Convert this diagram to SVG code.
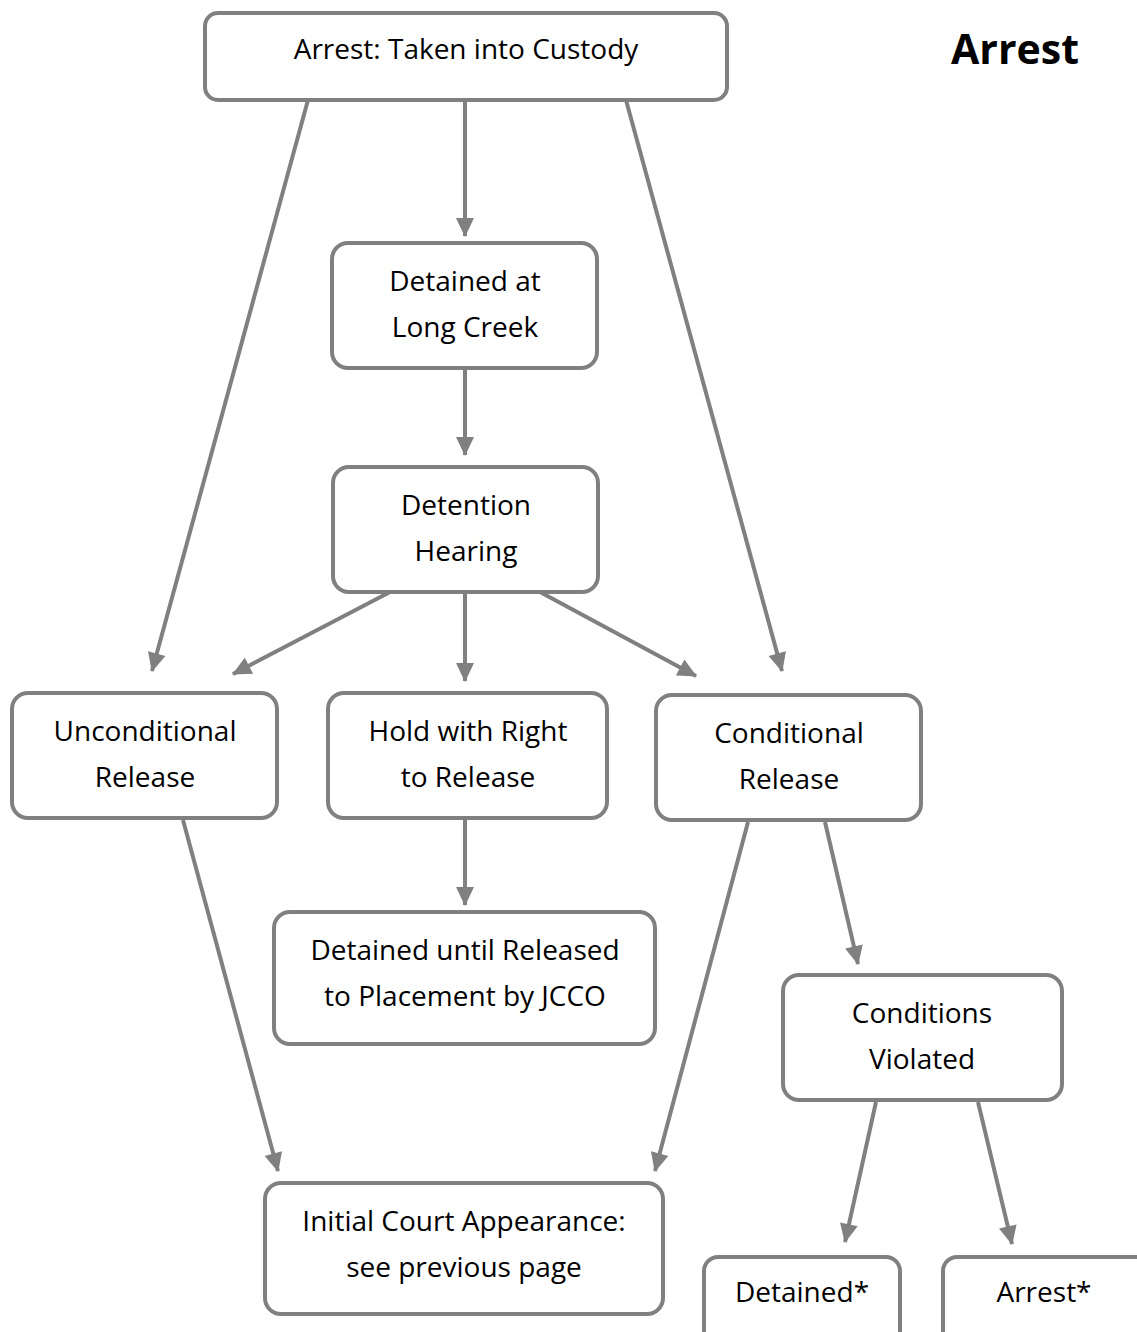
<svg xmlns="http://www.w3.org/2000/svg" width="1137" height="1332" viewBox="0 0 1137 1332">
<style>
.box{fill:#fff;stroke:#808080;stroke-width:4}
.t{font-family:"Open Sans","Noto Sans",sans-serif;font-size:28px;fill:#000;text-anchor:middle}
.title{font-family:"Open Sans","Noto Sans",sans-serif;font-size:41px;font-weight:bold;fill:#000}
.c{stroke:#808080;stroke-width:4;fill:none;marker-end:url(#ah)}
</style>
<defs>
<marker id="ah" markerUnits="userSpaceOnUse" markerWidth="22" markerHeight="20" refX="18" refY="9" orient="auto" overflow="visible">
<path d="M0,0 L19,9 L0,18 z" fill="#808080"/>
</marker>
</defs>
<rect width="1137" height="1332" fill="#fff"/>
<text class="title" x="951" y="64">Arrest</text>
<g id="connectors">
<line class="c" x1="465" y1="100" x2="465" y2="236"/>
<line class="c" x1="308" y1="100" x2="152" y2="671"/>
<line class="c" x1="626" y1="100" x2="782" y2="671"/>
<line class="c" x1="465" y1="368" x2="465" y2="455"/>
<line class="c" x1="390" y1="592" x2="233" y2="674"/>
<line class="c" x1="465" y1="592" x2="465" y2="681"/>
<line class="c" x1="540" y1="592" x2="696" y2="676"/>
<line class="c" x1="183" y1="820" x2="278" y2="1171"/>
<line class="c" x1="465" y1="820" x2="465" y2="905"/>
<line class="c" x1="748" y1="822" x2="655" y2="1171"/>
<line class="c" x1="825" y1="822" x2="858" y2="964"/>
<line class="c" x1="876" y1="1102" x2="845" y2="1242"/>
<line class="c" x1="978" y1="1102" x2="1012" y2="1244"/>
</g>
<g id="n1"><rect class="box" x="205" y="13" width="522" height="87" rx="13"/><text class="t" x="466" y="59">Arrest: Taken into Custody</text></g>
<g id="n2"><rect class="box" x="332" y="243" width="265" height="125" rx="16"/><text class="t" x="465" y="291">Detained at</text><text class="t" x="465" y="337">Long Creek</text></g>
<g id="n3"><rect class="box" x="333" y="467" width="265" height="125" rx="16"/><text class="t" x="466" y="515">Detention</text><text class="t" x="466" y="561">Hearing</text></g>
<g id="n4"><rect class="box" x="12" y="693" width="265" height="125" rx="16"/><text class="t" x="145" y="741">Unconditional</text><text class="t" x="145" y="787">Release</text></g>
<g id="n5"><rect class="box" x="328" y="693" width="279" height="125" rx="16"/><text class="t" x="468" y="741">Hold with Right</text><text class="t" x="468" y="787">to Release</text></g>
<g id="n6"><rect class="box" x="656" y="695" width="265" height="125" rx="16"/><text class="t" x="789" y="743">Conditional</text><text class="t" x="789" y="789">Release</text></g>
<g id="n7"><rect class="box" x="274" y="912" width="381" height="132" rx="16"/><text class="t" x="465" y="960">Detained until Released</text><text class="t" x="465" y="1006">to Placement by JCCO</text></g>
<g id="n8"><rect class="box" x="783" y="975" width="279" height="125" rx="16"/><text class="t" x="922" y="1023">Conditions</text><text class="t" x="922" y="1069">Violated</text></g>
<g id="n9"><rect class="box" x="265" y="1183" width="398" height="131" rx="16"/><text class="t" x="464" y="1231">Initial Court Appearance:</text><text class="t" x="464" y="1277">see previous page</text></g>
<g id="n10"><rect class="box" x="704" y="1257" width="196" height="90" rx="14"/><text class="t" x="802" y="1302">Detained*</text></g>
<g id="n11"><rect class="box" x="943" y="1257" width="220" height="90" rx="14"/><text class="t" x="1044" y="1302">Arrest*</text></g>
</svg>
